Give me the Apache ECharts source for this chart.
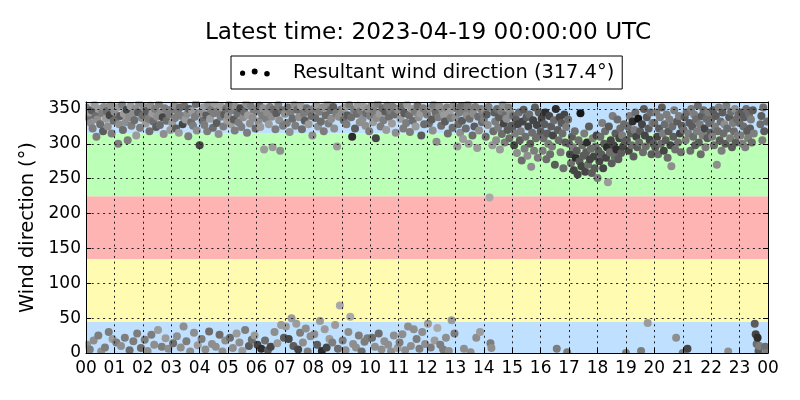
<!DOCTYPE html>
<html>
<head>
<meta charset="utf-8">
<script src="https://cdn.jsdelivr.net/npm/echarts@6/dist/echarts.min.js"></script>
<style>
html,body{margin:0;padding:0;background:#fff;}
#chart{width:800px;height:400px;}
</style>
</head>
<body>
<div id="chart"></div>
<script>
// ---------------- data ----------------
const titleText = 'Latest time: 2023-04-19 00:00:00 UTC';
const seriesName = 'Resultant wind direction (317.4°)';
const yAxisName = 'Wind direction (°)';
const hourLabels = ['00','01','02','03','04','05','06','07','08','09','10','11','12','13','14','15','16','17','18','19','20','21','22','23','00'];
const yTickLabels = [0, 50, 100, 150, 200, 250, 300, 350];
const sampleStepMinutes = 2;
// sector bands (degrees): N, E, S, W, N
const bandLow  = [0, 45, 135, 225, 315];
const bandHigh = [45, 135, 225, 315, 360];

// wind direction samples (deg), one array per hour, every 2 minutes
const dir00 = [352,12,338,345,5,330,348,322,18,356,340,310,335,25,350,328,2,344,318,353,8,336,347,325,30,341,355,315,20,333];
const dir01 = [346,335,15,352,300,328,340,10,356,320,343,22,331,349,305,338,4,354,326,342,17,334,350,312,28,345,358,323,7,337];
const dir02 = [341,353,19,329,347,3,336,318,355,26,344,332,12,350,324,339,33,357,327,345,9,338,314,351,21,333,348,6,342,320];
const dir03 = [349,330,14,355,337,322,24,346,316,352,8,340,328,38,354,335,17,343,311,350,2,331,347,326,29,339,357,319,11,344];
const dir04 = [298,345,20,333,352,327,5,341,318,356,31,336,349,13,323,344,358,9,330,347,314,26,339,353,2,325,342,18,350,334];
const dir05 = [340,356,22,328,348,7,335,319,353,28,343,331,15,351,324,3,338,346,33,357,316,341,10,329,354,19,337,349,25,322];
const dir06 = [347,12,332,355,324,6,341,351,292,18,336,345,4,328,353,9,339,295,349,30,321,344,14,356,334,290,40,348,326,22];
const dir07 = [343,38,330,352,20,317,345,50,336,10,356,326,42,349,5,338,29,354,321,15,344,333,35,351,2,328,347,24,340,312];
const dir08 = [350,27,337,355,12,325,346,46,332,3,352,318,34,341,8,357,329,20,348,336,15,353,322,40,344,296,6,339,68,349];
const dir09 = [345,18,334,352,4,328,341,30,356,52,338,310,13,349,322,8,343,355,25,331,347,2,336,353,16,326,344,21,350,318];
const dir10 = [340,354,22,331,347,9,308,337,357,28,343,325,5,351,334,17,346,320,355,12,339,348,2,329,353,25,342,316,350,7];
const dir11 = [348,15,336,353,27,322,344,4,330,356,38,341,317,10,350,333,34,346,325,20,355,338,6,343,312,30,351,328,13,347];
const dir12 = [342,42,329,351,8,335,319,356,18,345,303,36,338,354,12,326,348,5,341,332,22,352,315,3,346,337,47,323,355,28];
const dir13 = [338,351,296,328,345,316,354,333,307,6,347,322,341,356,300,336,1,349,312,343,325,353,22,294,339,319,30,350,331,345];
const dir14 = [335,348,310,342,327,353,223,14,7,298,318,345,332,305,350,323,338,292,347,314,356,329,302,341,336,320,352,308,344,326];
const dir15 = [322,340,298,315,335,287,328,345,305,318,276,332,349,293,310,338,283,325,342,300,267,316,334,290,352,308,327,280,345,312];
const dir16 = [318,336,290,308,328,345,278,315,300,340,285,325,296,312,334,270,350,6,320,305,338,288,330,315,265,342,302,324,1,335];
const dir17 = [300,285,272,310,295,262,318,280,290,256,305,275,344,268,298,283,315,260,288,302,270,325,278,293,258,308,282,265,296,312];
const dir18 = [251,290,275,310,285,330,265,300,318,280,295,245,325,288,305,272,340,298,282,315,292,335,278,308,322,287,312,296,328,303];
const dir19 = [0,305,325,290,340,315,298,332,282,320,345,310,295,336,302,318,3,328,288,350,312,296,338,43,322,306,345,285,330,300];
const dir20 = [330,295,345,310,285,322,338,300,352,315,290,328,305,342,280,318,335,298,268,325,310,348,292,22,332,302,340,315,288,326];
const dir21 = [0,320,338,305,345,6,315,330,290,350,325,310,342,298,335,318,355,302,328,285,340,312,348,322,295,336,308,345,330,316];
const dir22 = [335,310,348,298,325,340,270,318,352,305,332,290,345,315,328,300,355,322,2,338,308,346,295,330,318,350,302,336,312,342];
const dir23 = [330,312,345,300,325,338,295,350,318,308,342,322,335,302,348,315,42,27,13,22,3,10,328,340,305,352,318,9,0,332];

// grey level of each sample (0 = darkest, 9 = lightest)
const shade00 = [5,6,4,7,5,6,3,5,6,7,4,5,6,5,7,4,6,5,3,6,5,7,4,6,5,2,6,5,7,4];
const shade01 = [6,4,5,7,5,6,3,6,5,4,7,5,6,2,5,6,4,7,5,6,5,4,6,7,5,3,6,5,4,6];
const shade02 = [4,6,5,7,3,6,5,4,6,5,7,4,6,5,3,6,7,5,4,6,5,2,6,5,7,4,5,6,5,7];
const shade03 = [5,7,4,6,5,3,6,5,7,4,6,5,2,6,4,7,5,6,5,3,6,4,7,5,6,5,4,6,7,5];
const shade04 = [2,6,5,4,7,5,6,3,5,6,4,7,5,6,4,5,7,6,3,5,6,4,5,7,6,5,3,6,4,7];
const shade05 = [6,5,4,7,5,6,3,5,6,7,4,5,6,2,5,7,6,4,5,6,5,7,3,6,5,4,6,5,7,4];
const shade06 = [5,2,6,4,7,1,5,6,7,4,5,6,3,7,5,2,6,7,4,6,5,3,7,5,6,6,7,4,5,3];
const shade07 = [6,7,5,4,2,6,5,7,4,3,6,5,7,4,2,6,5,7,4,6,5,3,6,4,5,7,5,6,4,6];
const shade08 = [5,6,4,7,3,6,5,7,4,1,6,5,7,4,2,6,5,7,4,6,5,3,6,7,5,7,4,6,8,5];
const shade09 = [6,5,4,7,6,5,3,6,5,8,4,1,6,5,3,6,4,7,5,6,5,4,6,7,5,6,4,5,6,5];
const shade10 = [5,6,4,7,5,6,2,6,5,4,7,5,6,4,5,6,3,7,5,6,4,5,6,7,5,6,4,6,5,7];
const shade11 = [6,5,7,4,6,5,3,6,5,7,6,4,5,6,7,4,6,5,7,5,4,6,5,7,3,6,5,4,6,5];
const shade12 = [5,7,4,6,5,3,6,5,7,4,6,8,5,6,5,4,6,5,7,3,6,5,4,6,7,5,7,4,6,5];
const shade13 = [6,5,7,4,5,6,4,3,7,6,5,4,6,5,7,4,6,5,4,6,3,5,6,7,4,6,7,5,4,5];
const shade14 = [5,6,4,3,6,5,8,5,6,7,4,3,5,6,4,5,3,7,5,4,6,2,5,4,6,3,5,4,6,3];
const shade15 = [3,4,2,5,3,6,2,4,3,5,4,2,3,5,4,3,6,2,4,3,6,4,2,5,3,4,2,5,3,4];
const shade16 = [3,2,5,4,3,1,4,3,5,2,4,3,5,2,4,3,1,5,3,4,2,5,3,4,4,2,3,5,5,4];
const shade17 = [3,2,4,3,5,2,4,1,3,2,4,3,0,2,4,3,5,2,3,1,4,3,2,4,3,5,2,3,4,2];
const shade18 = [5,3,2,4,3,5,2,3,4,2,1,7,3,4,2,3,5,2,4,3,1,4,3,2,4,3,5,2,4,3];
const shade19 = [5,3,4,2,5,3,4,1,3,5,4,2,3,0,4,3,5,2,4,3,2,4,3,7,3,2,4,3,5,3];
const shade20 = [4,3,5,2,4,3,5,4,3,5,2,4,3,5,4,3,5,2,6,4,3,5,4,6,3,4,5,2,4,3];
const shade21 = [5,4,3,5,4,2,5,3,4,5,3,4,5,3,4,5,4,3,5,4,3,5,4,2,5,4,3,5,4,3];
const shade22 = [4,5,3,4,5,3,6,4,5,3,4,5,3,4,6,3,5,4,6,3,5,4,3,5,4,6,3,4,5,4];
const shade23 = [4,5,3,5,4,3,5,4,3,5,4,3,5,4,3,5,3,2,4,1,3,5,4,3,5,4,3,4,5,4];

const dirByHour = [dir00,dir01,dir02,dir03,dir04,dir05,dir06,dir07,dir08,dir09,dir10,dir11,dir12,dir13,dir14,dir15,dir16,dir17,dir18,dir19,dir20,dir21,dir22,dir23];
const shadeByHour = [shade00,shade01,shade02,shade03,shade04,shade05,shade06,shade07,shade08,shade09,shade10,shade11,shade12,shade13,shade14,shade15,shade16,shade17,shade18,shade19,shade20,shade21,shade22,shade23];

// ---------------- build ----------------
const points = [];
dirByHour.forEach((arr, h) => {
  arr.forEach((d, i) => {
    const s = shadeByHour[h][i];
    points.push([h + i * sampleStepMinutes / 60, d, (s === undefined ? 5 : s)]);
  });
});
const bandData = bandLow.map((lo, i) => [0, lo, bandHigh[i], i]);
const bandColors = ['#bfe0ff', '#fffbb0', '#ffb4b4', '#bcffb6', '#bfe0ff'];

const FONT = 'DejaVu Sans';
const G = {left: 86, right: 32, top: 102, bottom: 47};
const W = 800, H = 400;
const plotR = W - G.right, plotB = H - G.bottom;

const chart = echarts.init(document.getElementById('chart'), null, {renderer: 'canvas'});

const tickStyle = {show: true, inside: true, length: 5, lineStyle: {color: '#000', width: 1}};
const axisLineStyle = {show: true, onZero: false, lineStyle: {color: '#000', width: 1}};
const gridLine = {show: true, lineStyle: {color: '#222', width: 1, type: [2, 3.7]}};

const option = {
  animation: false,
  backgroundColor: '#fff',
  title: {
    text: titleText,
    left: 428,
    textAlign: 'center',
    top: 21,
    padding: 0,
    textStyle: {fontFamily: FONT, fontSize: 23.2, fontWeight: 'normal', color: '#000'}
  },
  legend: {
    show: true,
    left: 231,
    top: 56,
    orient: 'horizontal',
    selectedMode: false,
    borderColor: '#000',
    borderWidth: 1,
    borderRadius: 0,
    padding: [6, 8, 6, 9],
    itemWidth: 32,
    itemHeight: 8,
    icon: 'path://M0,5a2.8,2.8 0 1,0 5.6,0a2.8,2.8 0 1,0 -5.6,0zM12.6,3.2a3.2,3.2 0 1,0 6.4,0a3.2,3.2 0 1,0 -6.4,0zM26,5.6a3,3 0 1,0 6,0a3,3 0 1,0 -6,0z',
    data: [{name: seriesName, itemStyle: {color: '#000'}}],
    textStyle: {fontFamily: FONT, fontSize: 19.4, color: '#000', lineHeight: 21, padding: [0, 0, 0, 17]}
  },
  grid: {left: G.left, right: G.right, top: G.top, bottom: G.bottom, containLabel: false},
  xAxis: [
    {
      type: 'value', min: 0, max: 24, interval: 1, position: 'bottom', z: 10,
      axisLine: axisLineStyle, axisTick: tickStyle,
      axisLabel: {
        show: true, margin: 7, color: '#000', fontFamily: FONT, fontSize: 17,
        formatter: v => hourLabels[Math.round(v)] || ''
      },
      splitLine: gridLine
    },
    {
      type: 'value', min: 0, max: 24, interval: 1, position: 'top', z: 10,
      axisLine: axisLineStyle, axisTick: tickStyle,
      axisLabel: {show: false}, splitLine: {show: false}
    }
  ],
  yAxis: [
    {
      type: 'value', min: 0, max: 360, interval: 50, position: 'left', z: 10,
      name: yAxisName, nameLocation: 'middle', nameGap: 44, nameRotate: 90,
      nameTextStyle: {fontFamily: FONT, fontSize: 19.4, color: '#000'},
      axisLine: axisLineStyle, axisTick: tickStyle,
      axisLabel: {
        show: true, margin: 5, color: '#000', fontFamily: FONT, fontSize: 17,
        formatter: v => (yTickLabels.indexOf(v) >= 0 ? String(v) : '')
      },
      splitLine: gridLine
    },
    {
      type: 'value', min: 0, max: 360, interval: 50, position: 'right', z: 10,
      axisLine: axisLineStyle, axisTick: tickStyle,
      axisLabel: {show: false}, splitLine: {show: false}
    }
  ],
  visualMap: {
    type: 'continuous', show: false, seriesIndex: 1, dimension: 2,
    min: 0, max: 9, inRange: {color: ['#161616', '#5c5c5c', '#8e8e8e', '#b6b6b6']}
  },
  series: [
    {
      type: 'custom', z: 1, silent: true, xAxisIndex: 0, yAxisIndex: 0,
      data: bandData, encode: {x: 0, y: [1, 2]}, clip: false,
      renderItem: function (params, api) {
        const lo = api.value(1), hi = api.value(2);
        const p1 = api.coord([0, hi]);
        const p2 = api.coord([24, lo]);
        return {
          type: 'rect',
          shape: {x: p1[0], y: p1[1], width: p2[0] - p1[0], height: p2[1] - p1[1]},
          style: {fill: bandColors[api.value(3)]}
        };
      }
    },
    {
      name: seriesName, type: 'scatter', z: 2, xAxisIndex: 0, yAxisIndex: 0,
      symbol: 'circle', symbolSize: 8, data: points,
      itemStyle: {opacity: 1}, silent: true
    }
  ],
  graphic: [
    // white masks outside the plot so markers are clipped at the frame, like the original
    {type: 'rect', z: 5, silent: true, shape: {x: 70, y: 90, width: 720, height: G.top - 90 - 0.5}, style: {fill: '#fff'}},
    {type: 'rect', z: 5, silent: true, shape: {x: 70, y: plotB + 0.5, width: 720, height: 6}, style: {fill: '#fff'}},
    {type: 'rect', z: 5, silent: true, shape: {x: 76, y: 92, width: G.left - 76 - 0.5, height: plotB - 92 + 6}, style: {fill: '#fff'}},
    {type: 'rect', z: 5, silent: true, shape: {x: plotR + 0.5, y: 92, width: 10, height: plotB - 92 + 6}, style: {fill: '#fff'}}
  ]
};
chart.setOption(option);
</script>
</body>
</html>
